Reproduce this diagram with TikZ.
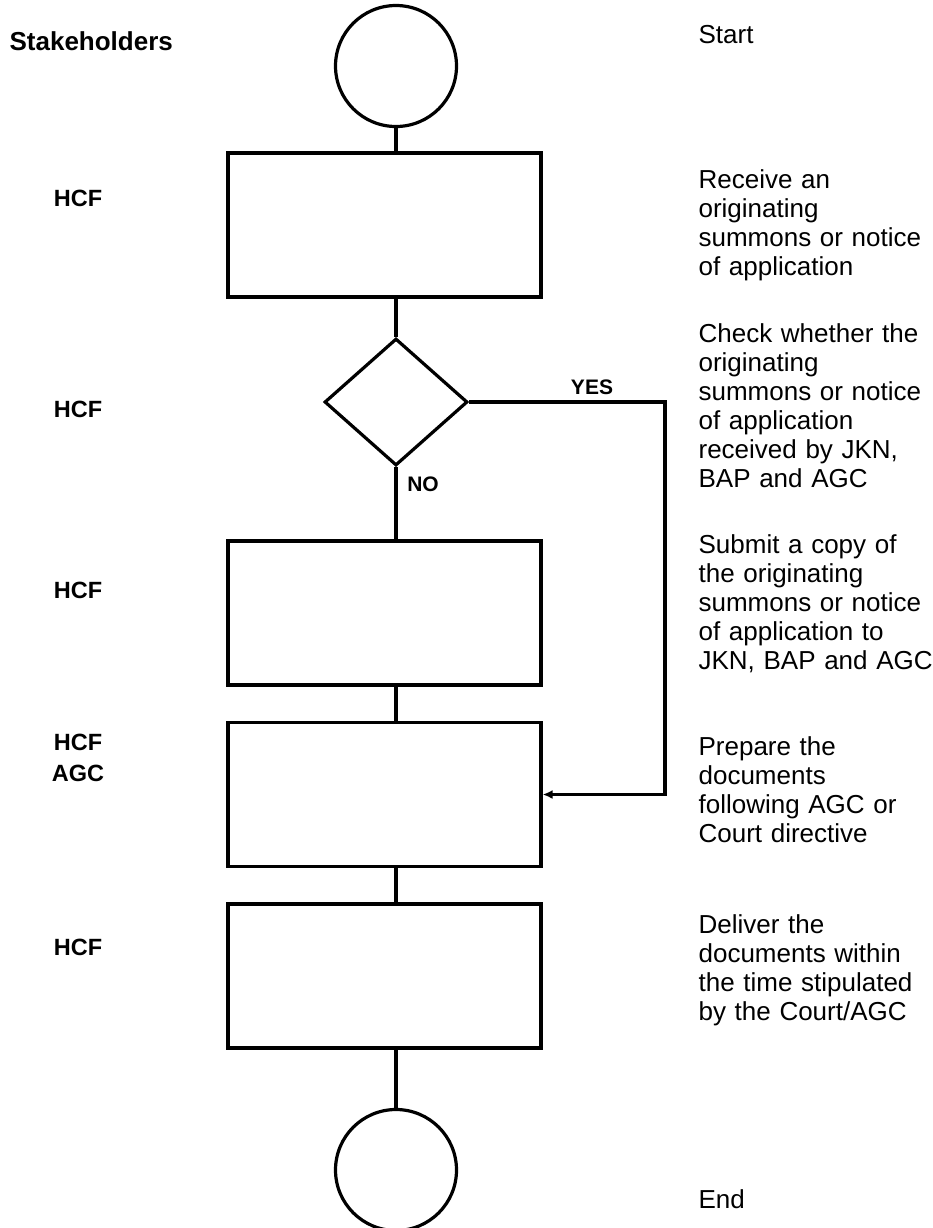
\documentclass[tikz,border=0pt]{standalone}
\usepackage{fontspec}
\setmainfont{Liberation Sans}
\usetikzlibrary{shapes.geometric, arrows.meta}

\begin{document}
\begin{tikzpicture}[x=0.5pt, y=-0.5pt, >={Latex[length=5pt,width=4.5pt]}, line width=1.6pt,
    terminal/.style={draw, circle, minimum size=60.5pt, inner sep=0pt},
    procbox/.style={draw, rectangle, minimum width=156.5pt, minimum height=72pt, inner sep=0pt},
    decide/.style={draw, diamond, minimum width=71.5pt, minimum height=63.5pt, inner sep=0pt},
    who/.style={font=\bfseries\fontsize{11.75pt}{15.5pt}\selectfont, inner sep=0pt, align=center, anchor=base},
    note/.style={font=\fontsize{13pt}{14.5pt}\selectfont, inner sep=0pt, text width=135pt, align=left, anchor=base west},
    yesno/.style={font=\bfseries\fontsize{10.5pt}{12pt}\selectfont, inner sep=0pt, anchor=base}]
            \useasboundingbox (0, 0) rectangle (933, 1228);
            % flow column
            \node[terminal] (start) at (396, 66){};
            \node[procbox] (receive) at (384.5, 225){};
            \node[decide] (check) at (396, 402){};
            \node[procbox] (submit) at (384.5, 613){};
            \node[procbox] (prepare) at (384.5, 794.5){};
            \node[procbox] (deliver) at (384.5, 976){};
            \node[terminal] (end) at (396, 1170){};
            \coordinate (yesturn) at (665, 402);

            \draw (start) -- (start |- receive.north);
            \draw (receive.south -| check) -- (check);
            \draw (check) -- (check |- submit.north);
            \draw (submit.south -| check) -- (check |- prepare.north);
            \draw (prepare.south -| check) -- (check |- deliver.north);
            \draw (deliver.south -| check) -- (end);
            \draw[->] (check) -- (yesturn) |- (prepare);
            \node[yesno] (yes) at (592, 394){YES};
            \node[yesno] (no) at (423, 491){NO};

            % stakeholders
            \node[who, anchor=base west, font=\bfseries\fontsize{13pt}{15pt}\selectfont] (stake) at (8, 50){Stakeholders};
            \node[who] (who1) at (78, 206){HCF};
            \node[who] (who2) at (78, 417){HCF};
            \node[who] (who3) at (78, 598){HCF};
            \node[who] (who4) at (78, 781){HCF\\AGC};
            \node[who] (who5) at (78, 955){HCF};

            % descriptions
            \node[note] (t0) at (697, 43){Start};
            \node[note] (t1) at (697, 188){Receive an\\originating\\summons or notice\\of application};
            \node[note] (t2) at (697, 342){Check whether the\\originating\\summons or notice\\of application\\received by JKN,\\BAP and AGC};
            \node[note] (t3) at (697, 553){Submit a copy of\\the originating\\summons or notice\\of application to\\JKN, BAP and AGC};
            \node[note] (t4) at (697, 755){Prepare the\\documents\\following AGC or\\Court directive};
            \node[note] (t5) at (697, 933){Deliver the\\documents within\\the time stipulated\\by the Court/AGC};
            \node[note] (t6) at (697, 1208){End};

        \end{tikzpicture}
\end{document}
